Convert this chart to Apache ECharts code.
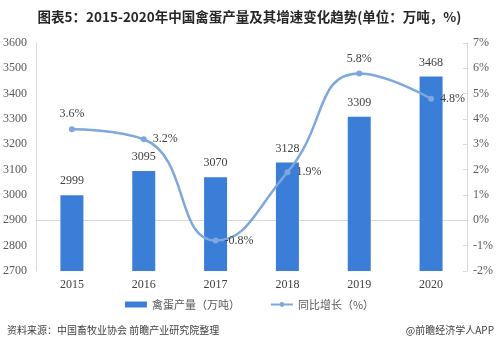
<!DOCTYPE html>
<html><head><meta charset="utf-8">
<script src="https://cdn.jsdelivr.net/npm/echarts@6/dist/echarts.min.js"></script>
<style>html,body{margin:0;padding:0;background:#fff}#c{width:499px;height:349px}</style>
</head><body><div id="c"></div>
<script>
var years = ['2015','2016','2017','2018','2019','2020'];
var production = [2999, 3095, 3070, 3128, 3309, 3468];
var growth = [3.6, 3.2, -0.8, 1.9, 5.8, 4.8];
var growthLabelPos = ['top','right','right','right','top','right'];

var serif = '"Liberation Serif", "DejaVu Serif", serif';
var cjk = '"Noto Sans CJK SC", sans-serif';
var chart = echarts.init(document.getElementById('c'));
chart.setOption({
  animation: false,
  title: {
    text: '图表5：2015-2020年中国禽蛋产量及其增速变化趋势(单位：万吨，%)',
    left: 'center', top: 5,
    textStyle: {fontFamily: cjk, fontSize: 13.5, fontWeight: 'bold', color: '#262626'}
  },
  legend: {
    bottom: 34, left: 'center', itemGap: 30, itemWidth: 22, itemHeight: 6,
    textStyle: {fontFamily: cjk, fontSize: 11, color: '#595959'},
    data: [{name: '禽蛋产量（万吨）', icon: 'rect'}, {name: '同比增长（%）'}]
  },
  graphic: [
    {type: 'text', left: 7, top: 325, style: {text: '资料来源：中国畜牧业协会 前瞻产业研究院整理', fontFamily: cjk, fontSize: 10, fill: '#404040'}},
    {type: 'text', right: 5, top: 325, style: {text: '@前瞻经济学人APP', fontFamily: cjk, fontSize: 10, fill: '#404040'}}
  ],
  grid: {left: 35, right: 32, top: 43, bottom: 78},
  xAxis: {
    type: 'category', data: years,
    axisLine: {lineStyle: {color: '#d9d9d9'}},
    axisTick: {show: false},
    axisLabel: {fontFamily: serif, fontSize: 12, color: '#404040', margin: 8}
  },
  yAxis: [
    {type: 'value', min: 2700, max: 3600, interval: 100,
     axisLine: {show: true, lineStyle: {color: '#d9d9d9'}},
     axisTick: {show: false}, splitLine: {show: false},
     axisLabel: {formatter: function(v){ return String(v); }, fontFamily: serif, fontSize: 12, color: '#595959', margin: 9}},
    {type: 'value', min: -2, max: 7, interval: 1,
     axisLine: {show: true, lineStyle: {color: '#d9d9d9'}},
     axisTick: {show: true, inside: true, length: 4, lineStyle: {color: '#d9d9d9'}}, splitLine: {show: false},
     axisLabel: {formatter: '{value}%', fontFamily: serif, fontSize: 12, color: '#595959', margin: 6}}
  ],
  series: [
    {name: '禽蛋产量（万吨）', type: 'bar', data: production, barWidth: 23,
     itemStyle: {color: '#3a7ed8'},
     label: {show: true, position: 'top', fontFamily: serif, fontSize: 12, color: '#404040', distance: 8}},
    {name: '同比增长（%）', type: 'line', yAxisIndex: 1, smooth: true,
     data: growth.map(function(v, i){ return {value: v, label: {position: growthLabelPos[i]}}; }),
     symbol: 'circle', symbolSize: 6,
     lineStyle: {color: '#7ea7de', width: 2.5},
     itemStyle: {color: '#7ea7de'},
     label: {show: true, formatter: '{c}%', fontFamily: serif, fontSize: 12, color: '#404040', distance: 6}}
  ]
});
</script></body></html>
